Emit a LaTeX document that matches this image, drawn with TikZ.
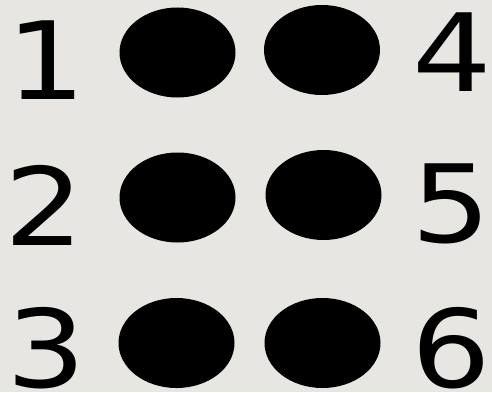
\documentclass[tikz,border=0pt]{standalone}
\usepackage{fontspec}
\setmainfont{DejaVu Sans}[FakeStretch=1.16]
\usetikzlibrary{shapes.geometric}
\definecolor{paper}{RGB}{232,230,226}
\begin{document}
\begin{tikzpicture}[x=1pt,y=1pt,
  dot/.style={ellipse,fill=black,inner sep=0pt,minimum width=116pt,minimum height=90pt},
  num/.style={anchor=base,inner sep=0pt,text depth=0pt,font=\fontsize{108}{108}\selectfont,text=black}]
\fill[paper] (0,0) rectangle (492,392);
\useasboundingbox (0,0) rectangle (492,392);
\node[dot] (d1) at (177.5,339.5) {};
\node[dot] (d4) at (322,342) {};
\node[dot] (d2) at (177.5,194.5) {};
\node[dot] (d5) at (323.5,197) {};
\node[dot] (d3) at (176.5,49) {};
\node[dot] (d6) at (322.5,49) {};
\node[num] (n1) at (46,293) {1};
\node[num] (n4) at (452,301) {4};
\node[num] (n2) at (44,147) {2};
\node[num] (n5) at (451,150) {5};
\node[num] (n3) at (46,5) {3};
\node[num] (n6) at (451,5) {6};
\end{tikzpicture}
\end{document}
